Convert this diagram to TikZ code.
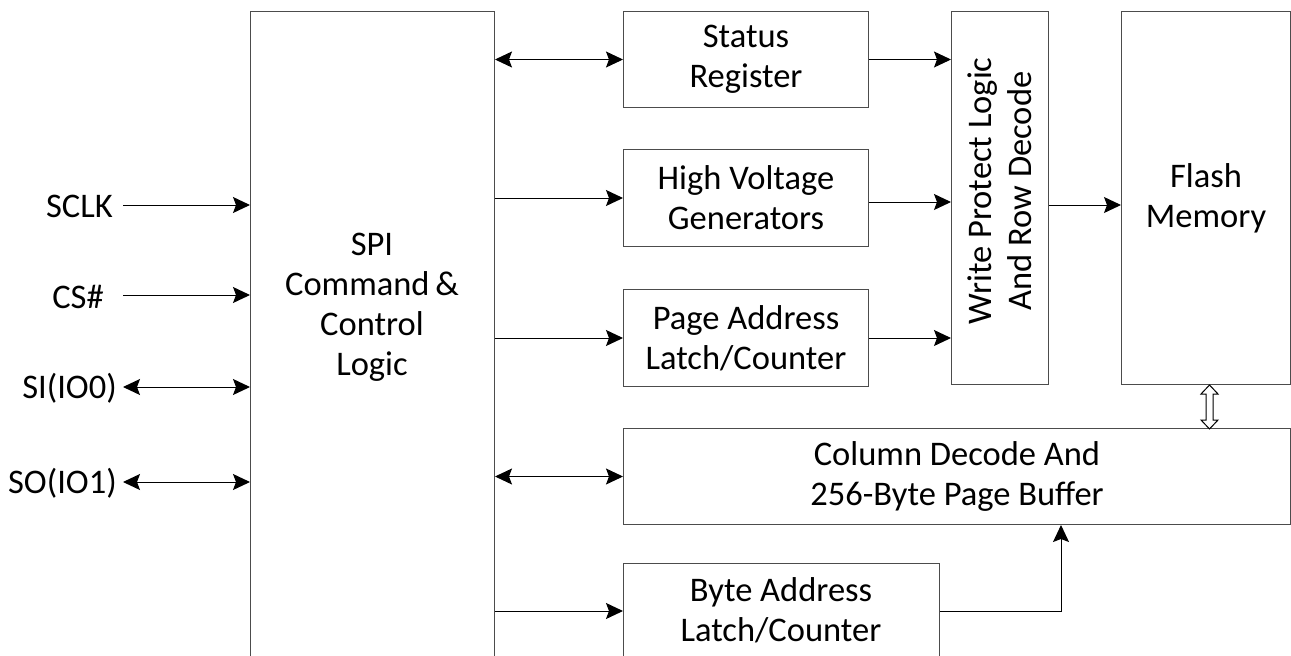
\documentclass[tikz,border=0pt]{standalone}
\usepackage{fontspec}
\setmainfont{Carlito}
\usetikzlibrary{arrows.meta}

\tikzset{
  blk/.style={draw=black!70, line width=1pt, anchor=north west, inner sep=0pt, align=center, font=\fontsize{34.5}{40}\selectfont},
  txt/.style={inner sep=0pt, align=center, font=\fontsize{34.5}{40}\selectfont},
  arr/.style={draw=black, line width=1pt, -{Stealth[length=17pt,width=16pt,inset=3pt]}},
  biarr/.style={arr, {Stealth[length=17pt,width=16pt,inset=3pt]}-{Stealth[length=17pt,width=16pt,inset=3pt]}},
}

\begin{document}
\begin{tikzpicture}[x=1pt,y=-1pt]
\useasboundingbox (0,0) rectangle (1291,656);
\clip (0,0) rectangle (1291,656);

%Shape: Rectangle [id:spi]
\node[blk, minimum width=244pt, minimum height=700pt] (spi) at (250,11) {};
%Shape: Rectangle [id:status]
\node[blk, minimum width=245pt, minimum height=96pt] (status) at (623,11) {Status\\Register};
%Shape: Rectangle [id:hv]
\node[blk, minimum width=245pt, minimum height=97pt] (hv) at (623,149) {High Voltage\\Generators};
%Shape: Rectangle [id:page]
\node[blk, minimum width=245pt, minimum height=97pt] (page) at (623,289) {Page Address\\Latch/Counter};
%Shape: Rectangle [id:wp]
\node[blk, minimum width=97pt, minimum height=373pt] (wp) at (951,11) {};
%Shape: Rectangle [id:flash]
\node[blk, minimum width=169pt, minimum height=373pt] (flash) at (1121,11) {Flash\\Memory};
%Shape: Rectangle [id:column]
\node[blk, minimum width=667pt, minimum height=96pt] (column) at (623,428) {Column Decode And\\256-Byte Page Buffer};
%Shape: Rectangle [id:byte]
\node[blk, minimum width=316pt, minimum height=120pt] (byte) at (623,563) {};

% Text Node
\node[txt] (spilbl) at (372,307) {SPI\\Command\,\&\\Control\\Logic};
% Text Node
\node[txt, rotate=90] (wplbl) at ([yshift=7pt]wp.center) {Write Protect Logic\\And Row Decode};
% Text Node
\node[txt] (bytelbl) at (781,610) {Byte Address\\Latch/Counter};
% Text Node
\node[txt, anchor=east] (sclk) at (113,206) {SCLK};
% Text Node
\node[txt] (cs) at (78,297) {CS\#};
% Text Node
\node[txt, anchor=east] (si) at (117,388) {SI(IO0)};
% Text Node
\node[txt, anchor=east] (so) at (117,483) {SO(IO1)};

\coordinate (sclkin) at (123,205);
\coordinate (csin) at (123,295);
\coordinate (siin) at (123,387);
\coordinate (soin) at (123,482);
\coordinate (byteport) at ([yshift=-48pt]byte.north west);

%Straight Lines [id:inputs]
\draw[arr] (sclkin) -- (sclkin -| spi.west);
\draw[arr] (csin) -- (csin -| spi.west);
\draw[biarr] (siin) -- (siin -| spi.west);
\draw[biarr] (soin) -- (soin -| spi.west);

%Straight Lines [id:spi outputs]
\draw[biarr] (spi.east |- status.west) -- (status.west);
\draw[arr] (spi.east |- hv.west) -- (hv.west);
\draw[arr] (spi.east |- page.west) -- (page.west);
\draw[biarr] (spi.east |- column.west) -- (column.west);
\draw[arr] (spi.east |- byteport) -- (byteport);

%Straight Lines [id:to wp]
\draw[arr] (status.east) -- (status.east -| wp.west);
\draw[arr] ([yshift=-4pt]hv.east) -- ([yshift=-4pt]hv.east -| wp.west);
\draw[arr] (page.east) -- (page.east -| wp.west);
\draw[arr] ([yshift=-7pt]wp.east) -- ([yshift=-7pt]wp.east -| flash.west);

%Straight Lines [id:byte to column]
\draw[arr] (byteport -| byte.east) -| ([xshift=104pt]column.south);

%Shape: Double Arrow [id:flash bus]
\draw[draw=black, line width=1pt, fill=white] ([xshift=3.5pt]flash.south) -- ++(8.5,9) -- ++(-5,0) -- ++(0,26) -- ++(5,0) -- ++(-8.5,9) -- ++(-8.5,-9) -- ++(5,0) -- ++(0,-26) -- ++(-5,0) -- cycle;
\end{tikzpicture}
\end{document}
